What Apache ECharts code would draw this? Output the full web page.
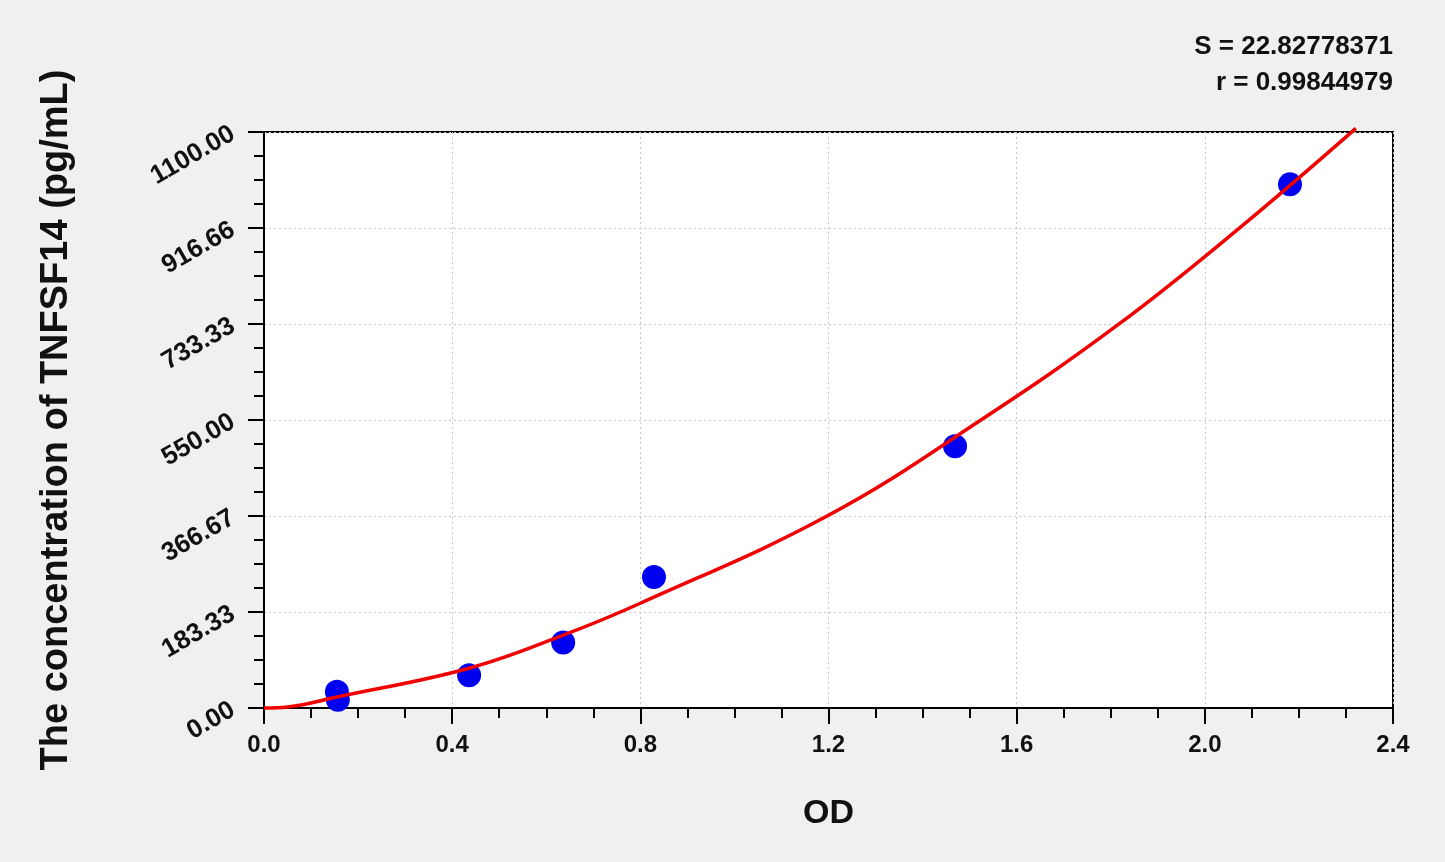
<!DOCTYPE html>
<html lang="en">
<head>
    <meta charset="UTF-8">
    <title>TNFSF14 standard curve</title>
    <script src="https://cdn.jsdelivr.net/npm/echarts@6/dist/echarts.min.js"></script>
    <style>
        html, body { margin: 0; padding: 0; background: #f0f0f0; }
        #chart { width: 1445px; height: 862px; }
    </style>
</head>
<body>
<div id="chart"></div>
<script>
    // standard points (OD, concentration)
    var pointOd   = [0.155, 0.157, 0.436, 0.636, 0.829, 1.469, 2.181];
    var pointConc = [31.25, 15.6, 62.5, 125, 250, 500, 1000];

    // fitted curve
    var curveOd   = [0, 0.05, 0.155, 0.436, 0.636, 0.8, 1.2, 1.524, 1.817, 2.074, 2.321];
    var curveConc = [0, 2, 21, 76, 139, 200, 368, 550, 733, 917, 1107];

    var yTickLabels = ['0.00', '183.33', '366.67', '550.00', '733.33', '916.66', '1100.00'];

    var fitText = ['S = 22.82778371', 'r = 0.99844979'];

    var font = 'Liberation Sans, Arial, sans-serif';
    var chart = echarts.init(document.getElementById('chart'));

    var option = {
        backgroundColor: '#f0f0f0',
        animation: false,
        graphic: fitText.map(function (t, i) {
            return {
                type: 'text',
                x: 1393,
                y: 47 + i * 36,
                style: {
                    text: t,
                    font: 'bold 26px ' + font,
                    fill: '#111',
                    align: 'right',
                    verticalAlign: 'middle'
                }
            };
        }),
        grid: {
            left: 264, right: 52, top: 132, bottom: 154,
            show: true,
            backgroundColor: '#fff',
            borderColor: '#000',
            borderWidth: 2
        },
        xAxis: {
            type: 'value',
            min: 0, max: 2.4, interval: 0.4,
            name: 'OD',
            nameLocation: 'middle',
            nameGap: 89,
            nameTextStyle: { fontSize: 34, fontWeight: 'bold', color: '#111', fontFamily: font },
            axisLine: { lineStyle: { color: '#000', width: 2 } },
            axisTick: { length: 16, lineStyle: { color: '#000', width: 2 } },
            minorTick: { show: true, splitNumber: 4, length: 10, lineStyle: { color: '#000', width: 2 } },
            axisLabel: {
                fontSize: 24, fontWeight: 'bold', color: '#111', fontFamily: font, margin: 25,
                formatter: function (v) { return v.toFixed(1); }
            },
            splitLine: { show: true, lineStyle: { color: '#c8c8c8', type: [2, 3], width: 1 } }
        },
        yAxis: {
            type: 'value',
            min: 0, max: 1100, interval: 1100 / 6,
            name: 'The concentration of TNFSF14 (pg/mL)',
            nameLocation: 'middle',
            nameGap: 188,
            nameTextStyle: { fontSize: 38, fontWeight: 'bold', color: '#111', fontFamily: font },
            axisLine: { lineStyle: { color: '#000', width: 2 } },
            axisTick: { length: 16, lineStyle: { color: '#000', width: 2 } },
            minorTick: { show: true, splitNumber: 4, length: 10, lineStyle: { color: '#000', width: 2 } },
            axisLabel: {
                rotate: 30,
                fontSize: 26, fontWeight: 'bold', color: '#111', fontFamily: font, margin: 31,
                formatter: function (v, i) { return yTickLabels[i]; }
            },
            splitLine: { show: true, lineStyle: { color: '#c8c8c8', type: [2, 3], width: 1 } }
        },
        series: [{
            type: 'scatter',
            data: pointOd.map(function (x, i) { return [x, pointConc[i]]; }),
            symbolSize: 24,
            itemStyle: { color: '#0000f0', opacity: 1 },
            z: 2
        }, {
            type: 'line',
            data: curveOd.map(function (x, i) { return [x, curveConc[i]]; }),
            smooth: 0.4,
            showSymbol: false,
            clip: false,
            lineStyle: { color: '#f00000', width: 3.5 },
            z: 3
        }]
    };

    chart.setOption(option);
</script>
</body>
</html>
